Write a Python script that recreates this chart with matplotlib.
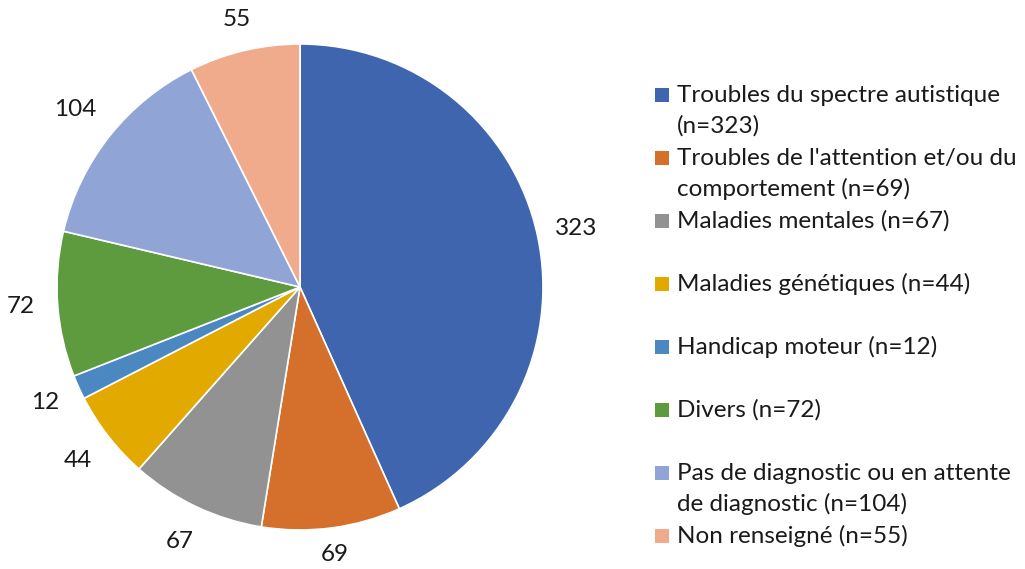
import matplotlib
matplotlib.use("Agg")
import matplotlib.pyplot as plt
from matplotlib.patches import Rectangle
import numpy as np

categories = [
    "Troubles du spectre autistique\n(n=323)",
    "Troubles de l'attention et/ou du\ncomportement (n=69)",
    "Maladies mentales (n=67)",
    "Maladies génétiques (n=44)",
    "Handicap moteur (n=12)",
    "Divers (n=72)",
    "Pas de diagnostic ou en attente\nde diagnostic (n=104)",
    "Non renseigné (n=55)",
]
values = [323, 69, 67, 44, 12, 72, 104, 55]
colors = ["#3F65AE", "#D4702B", "#929292", "#E2AA00", "#4B88C2", "#5E9B3F", "#90A4D6", "#F0AA8C"]
label_dist = [1.16, 1.11, 1.16, 1.16, 1.15, 1.15, 1.18, 1.13]

plt.rcParams['font.family'] = ['Lato', 'DejaVu Sans']
FS = 17.5

W, H = 1025, 569
fig = plt.figure(figsize=(W / 100, H / 100), dpi=100)
fig.patch.set_facecolor("white")

cx, cy, r = 300, 287, 243
ax = fig.add_axes([(cx - r) / W, (H - cy - r) / H, 2 * r / W, 2 * r / H])
wedges, texts = ax.pie(values, labels=[str(v) for v in values], colors=colors, startangle=90,
                       counterclock=False, labeldistance=1.15,
                       wedgeprops=dict(edgecolor="white", linewidth=1.2),
                       textprops=dict(fontsize=FS, color="#1a1a1a"))
for w, t, d in zip(wedges, texts, label_dist):
    ang = np.deg2rad((w.theta1 + w.theta2) / 2)
    t.set_position((d * np.cos(ang), d * np.sin(ang)))
    t.set_ha("center")
    t.set_va("center")
ax.set_xlim(-1, 1)
ax.set_ylim(-1, 1)
ax.set_aspect("equal")
ax.axis("off")

# legend
y0, step, lh = 95, 63, 31
for i, (lab, c) in enumerate(zip(categories, colors)):
    y = y0 + step * i
    fig.patches.append(Rectangle((655 / W, (H - y - 7) / H), 14 / W, 14 / H,
                                 transform=fig.transFigure, facecolor=c, edgecolor="none"))
    for j, line in enumerate(lab.split("\n")):
        fig.text(677 / W, (H - y - j * lh) / H, line, fontsize=FS,
                 va="center", ha="left", color="#1a1a1a")

fig.savefig("out.png", dpi=100)
